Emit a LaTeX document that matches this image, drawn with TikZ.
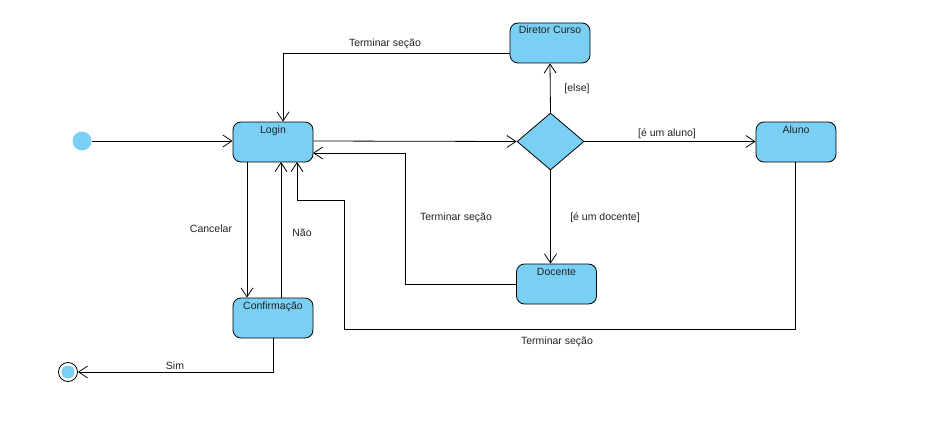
\documentclass[tikz,border=0pt]{standalone}
\usepackage{fontspec}
\setmainfont{Liberation Sans}
\usetikzlibrary{arrows.meta,shapes.geometric}
\definecolor{stfill}{HTML}{7ACFF5}
\definecolor{txt}{HTML}{222222}
\tikzset{
  stbox/.style={draw=black, fill=stfill, rounded corners=8pt, minimum width=80pt,
    text height=8pt, text depth=26pt, inner sep=3pt, font=\fontsize{10.5}{12}\selectfont, text=txt, line width=0.8pt},
  choice/.style={draw=black, fill=stfill, diamond, minimum width=67pt, minimum height=57pt, inner sep=0pt, line width=0.8pt},
  arr/.style={draw=black, line width=0.8pt, -{Straight Barb[length=9pt,width=12pt,line width=0.8pt]}},
  plain/.style={draw=black, line width=0.8pt},
  lbl/.style={font=\fontsize{10.5}{12}\selectfont, text=txt, inner sep=0pt}
}
\begin{document}
\begin{tikzpicture}[x=1pt,y=-1pt]
\useasboundingbox (0,0) rectangle (937,436);
% states
\node[circle, fill=stfill, minimum size=19pt, inner sep=0pt] (init) at (82,141) {};
\node[stbox] (login) at (273,142) {Login};
\node[stbox] (conf) at (273,318) {Confirmação};
\node[stbox] (dir) at (550,43) {Diretor Curso};
\node[stbox] (doc) at (556.5,284) {Docente};
\node[stbox] (aluno) at (796,142) {Aluno};
\node[choice] (dec) at (550.5,141.5) {};
\node[circle, draw=black, fill=white, minimum size=19pt, inner sep=0pt, line width=0.8pt] (fin) at (68,372) {};
\node[circle, fill=stfill, minimum size=13pt, inner sep=0pt] (finin) at (fin) {};
% coordinates
\coordinate (c1) at (247,162);
\coordinate (c2) at (281,298);
\coordinate (c3) at (281,162);
\coordinate (c4) at (283,53);
\coordinate (c5) at (405,153);
\coordinate (c6) at (313,153);
\coordinate (c7) at (795,329);
\coordinate (c8) at (344,200);
\coordinate (c9) at (297,162);
\coordinate (c10) at (273,372);
% connectors
\draw[arr] (init) -- (login.west |- init);
\draw[arr] (login.east |- init) -- (dec.west);
\draw[arr] (dec.north) -- (dir.south);
\draw[arr] (dec.east) -- (aluno.west |- dec.east);
\draw[arr] (dec.south) -- (dec.south |- doc.north);
\draw[arr] (c1) -- (c1 |- conf.north);
\draw[arr] (c2) -- (c3);
\draw[arr] (dir.west |- c4) -| (c4 |- login.north);
\draw[arr] (doc.west) -| (c5) -- (c6);
\draw[arr] (aluno.south -| c7) |- (c7) -| (c8) -| (c9);
\draw[arr] (conf.south) -- (c10) -- (fin.east);
% labels
\node[lbl] (l1) at (385,44) {Terminar seção};
\node[lbl] (l2) at (577,89) {[else]};
\node[lbl] (l3) at (667,134) {[é um aluno]};
\node[lbl] (l4) at (605,218) {[é um docente]};
\node[lbl] (l5) at (456,218) {Terminar seção};
\node[lbl] (l6) at (557,342) {Terminar seção};
\node[lbl] (l7) at (211,229) {Cancelar};
\node[lbl] (l8) at (302,233) {Não};
\node[lbl] (l9) at (175,366) {Sim};
\end{tikzpicture}
\end{document}
